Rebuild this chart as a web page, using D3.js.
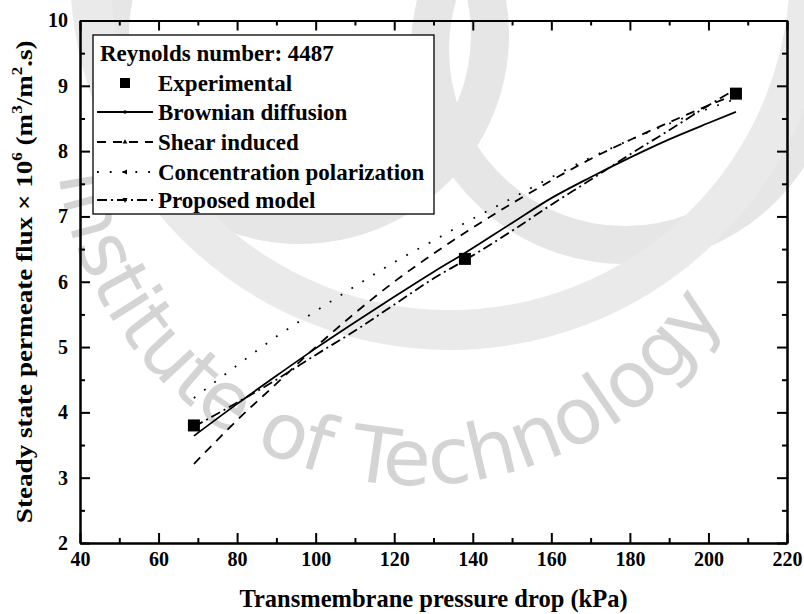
<!DOCTYPE html>
<html><head><meta charset="utf-8">
<script src="https://cdn.jsdelivr.net/npm/d3@7"></script>
<style>body{margin:0;background:#fff}</style>
</head><body>
<svg id="c" width="804" height="614"></svg>
<script>
// ---- data ----
const pressure = [69, 80, 90, 100, 110, 120, 130, 138, 150, 160, 170, 180, 190, 200, 207];
const brownian = [3.64, 4.13, 4.56, 4.98, 5.38, 5.77, 6.15, 6.44, 6.90, 7.28, 7.60, 7.90, 8.18, 8.43, 8.60];
const shear = [3.21, 3.88, 4.44, 5.00, 5.52, 6.00, 6.43, 6.75, 7.20, 7.55, 7.88, 8.17, 8.44, 8.70, 8.87];
const concentration = [4.22, 4.72, 5.16, 5.55, 5.93, 6.30, 6.63, 6.90, 7.28, 7.60, 7.90, 8.17, 8.42, 8.65, 8.80];
const proposed = [3.78, 4.15, 4.50, 4.88, 5.25, 5.65, 6.05, 6.33, 6.78, 7.18, 7.56, 7.95, 8.32, 8.70, 8.95];
const expPressure = [69, 138, 207];
const experimental = [3.80, 6.35, 8.88];
const xTicks = [40, 60, 80, 100, 120, 140, 160, 180, 200, 220];
const yTicks = [2, 3, 4, 5, 6, 7, 8, 9, 10];
const legendTitle = "Reynolds number: 4487";
const seriesNames = ["Experimental", "Brownian diffusion", "Shear induced", "Concentration polarization", "Proposed model"];
const watermarkText = "Institute of Technology";

const svg = d3.select("#c");
const FONT = "'Liberation Serif','Times New Roman',serif";
svg.append("rect").attr("width", 804).attr("height", 614).attr("fill", "#fff");

// ---- watermark (light grey) ----
const wm = svg.append("g").attr("fill", "none");
wm.append("circle").attr("cx", 300).attr("cy", 35).attr("r", 190).attr("stroke", "#e6e6e6").attr("stroke-width", 38);
wm.append("circle").attr("cx", 625).attr("cy", 50).attr("r", 195).attr("stroke", "#e6e6e6").attr("stroke-width", 38);
wm.append("circle").attr("cx", 450).attr("cy", -30).attr("r", 360).attr("stroke", "#eaeaea").attr("stroke-width", 40);
const wcx = 415, wcy = 125, wr = 360;
const a0 = 200 * Math.PI / 180, a1 = -5 * Math.PI / 180;
const wpath = `M${wcx + wr * Math.cos(a0)},${wcy + wr * Math.sin(a0)} A${wr},${wr} 0 1 0 ${wcx + wr * Math.cos(a1)},${wcy + wr * Math.sin(a1)}`;
svg.append("defs").append("path").attr("id", "wmp").attr("d", wpath);
svg.append("text").attr("font-family", "'DejaVu Sans',sans-serif").attr("font-size", 78)
  .attr("fill", "#d4d4d4")
  .append("textPath").attr("href", "#wmp").attr("startOffset", 175)
  .text(watermarkText);

// ---- scales ----
const x = d3.scaleLinear().domain([40, 220]).range([80, 787]);
const y = d3.scaleLinear().domain([2, 10]).range([543, 20.5]);

const xMinor = d3.range(50, 220, 20);
const yMinor = d3.range(2.5, 10, 1);

function styleAxis(g) {
  g.selectAll("path.domain").attr("stroke", "#000").attr("stroke-width", 2);
  g.selectAll(".tick line").attr("stroke", "#000").attr("stroke-width", 2);
  g.selectAll("text").attr("font-family", FONT).attr("font-weight", "bold").attr("font-size", 20).attr("fill", "#000");
}
// bottom
svg.append("g").attr("transform", `translate(0,${y(2)})`)
  .call(d3.axisBottom(x).tickValues(xTicks).tickFormat(d3.format("d")).tickSizeInner(-10).tickSizeOuter(0).tickPadding(9))
  .call(styleAxis);
svg.append("g").attr("transform", `translate(0,${y(2)})`)
  .call(d3.axisBottom(x).tickValues(xMinor).tickFormat("").tickSizeInner(-5).tickSizeOuter(0))
  .call(styleAxis);
// top
svg.append("g").attr("transform", `translate(0,${y(10)})`)
  .call(d3.axisTop(x).tickValues(xTicks).tickFormat("").tickSizeInner(-10).tickSizeOuter(0))
  .call(styleAxis);
svg.append("g").attr("transform", `translate(0,${y(10)})`)
  .call(d3.axisTop(x).tickValues(xMinor).tickFormat("").tickSizeInner(-5).tickSizeOuter(0))
  .call(styleAxis);
// left
svg.append("g").attr("transform", `translate(${x(40)},0)`)
  .call(d3.axisLeft(y).tickValues(yTicks).tickFormat(d3.format("d")).tickSizeInner(-10).tickSizeOuter(0).tickPadding(12))
  .call(styleAxis);
svg.append("g").attr("transform", `translate(${x(40)},0)`)
  .call(d3.axisLeft(y).tickValues(yMinor).tickFormat("").tickSizeInner(-5).tickSizeOuter(0))
  .call(styleAxis);
// right
svg.append("g").attr("transform", `translate(${x(220)},0)`)
  .call(d3.axisRight(y).tickValues(yTicks).tickFormat("").tickSizeInner(-10).tickSizeOuter(0))
  .call(styleAxis);
svg.append("g").attr("transform", `translate(${x(220)},0)`)
  .call(d3.axisRight(y).tickValues(yMinor).tickFormat("").tickSizeInner(-5).tickSizeOuter(0))
  .call(styleAxis);

// ---- axis titles ----
svg.append("text").attr("x", (x(40) + x(220)) / 2).attr("y", 607)
  .attr("text-anchor", "middle").attr("font-family", FONT).attr("font-weight", "bold").attr("font-size", 24.5)
  .text("Transmembrane pressure drop (kPa)");

const yt = svg.append("text").attr("transform", `translate(32,${(y(2) + y(10)) / 2}) scale(1,1.13) rotate(-90)`)
  .attr("text-anchor", "middle").attr("font-family", FONT).attr("font-weight", "bold").attr("font-size", 24);
yt.append("tspan").text("Steady state permeate flux \u00d7 10");
yt.append("tspan").attr("dy", -10).attr("font-size", 15).text("6");
yt.append("tspan").attr("dy", 10).text(" (m");
yt.append("tspan").attr("dy", -10).attr("font-size", 15).text("3");
yt.append("tspan").attr("dy", 10).text("/m");
yt.append("tspan").attr("dy", -10).attr("font-size", 15).text("2");
yt.append("tspan").attr("dy", 10).text(".s)");

// ---- lines ----
const series = [
  { name: seriesNames[1], vals: brownian, dash: null, sym: d3.symbolCircle },
  { name: seriesNames[2], vals: shear, dash: "9,7", sym: d3.symbolTriangle },
  { name: seriesNames[3], vals: concentration, dash: "1.8,11", sym: "left" },
  { name: seriesNames[4], vals: proposed, dash: "10,4,2,4", sym: "down" }
];
const line = d3.line().x(d => x(d[0])).y(d => y(d[1])).curve(d3.curveMonotoneX);
series.forEach(s => {
  svg.append("path").datum(pressure.map((p, i) => [p, s.vals[i]]))
    .attr("d", line).attr("fill", "none").attr("stroke", "#000").attr("stroke-width", 1.8)
    .attr("stroke-dasharray", s.dash);
});
// experimental squares
svg.selectAll("rect.exp").data(expPressure.map((p, i) => [p, experimental[i]])).enter()
  .append("rect").attr("class", "exp")
  .attr("x", d => x(d[0]) - 6).attr("y", d => y(d[1]) - 6).attr("width", 12).attr("height", 12).attr("fill", "#000");

// ---- legend ----
const lg = svg.append("g");
lg.append("rect").attr("x", 93).attr("y", 35).attr("width", 341).attr("height", 179)
  .attr("fill", "#fff").attr("stroke", "#000").attr("stroke-width", 1.3);
const lt = (txt, xx, yy) => lg.append("text").attr("x", xx).attr("y", yy).attr("font-family", FONT)
  .attr("font-weight", "bold").attr("font-size", 23).text(txt);
lt(legendTitle, 100, 61);
const rowY = [83, 112, 142, 172, 200];
lt(seriesNames[0], 158, rowY[0] + 8);
lg.append("rect").attr("x", 120).attr("y", rowY[0] - 5).attr("width", 10).attr("height", 10).attr("fill", "#000");
function marker(g, type, cx, cy) {
  if (type === "left") {
    g.append("path").attr("d", `M${cx - 3},${cy} L${cx + 2},${cy - 2.5} L${cx + 2},${cy + 2.5}Z`).attr("fill", "#000");
  } else if (type === "down") {
    g.append("path").attr("d", `M${cx - 2.5},${cy - 2} L${cx + 2.5},${cy - 2} L${cx},${cy + 3}Z`).attr("fill", "#000");
  } else {
    g.append("path").attr("transform", `translate(${cx},${cy})`).attr("d", d3.symbol().type(type).size(10)()).attr("fill", "#000");
  }
}
series.forEach((s, i) => {
  const yy = rowY[i + 1];
  lg.append("line").attr("x1", 97).attr("x2", 153).attr("y1", yy).attr("y2", yy)
    .attr("stroke", "#000").attr("stroke-width", 1.8).attr("stroke-dasharray", s.dash);
  marker(lg, s.sym, 125, yy);
  lt(s.name, 158, yy + 8);
});
</script>
</body></html>
